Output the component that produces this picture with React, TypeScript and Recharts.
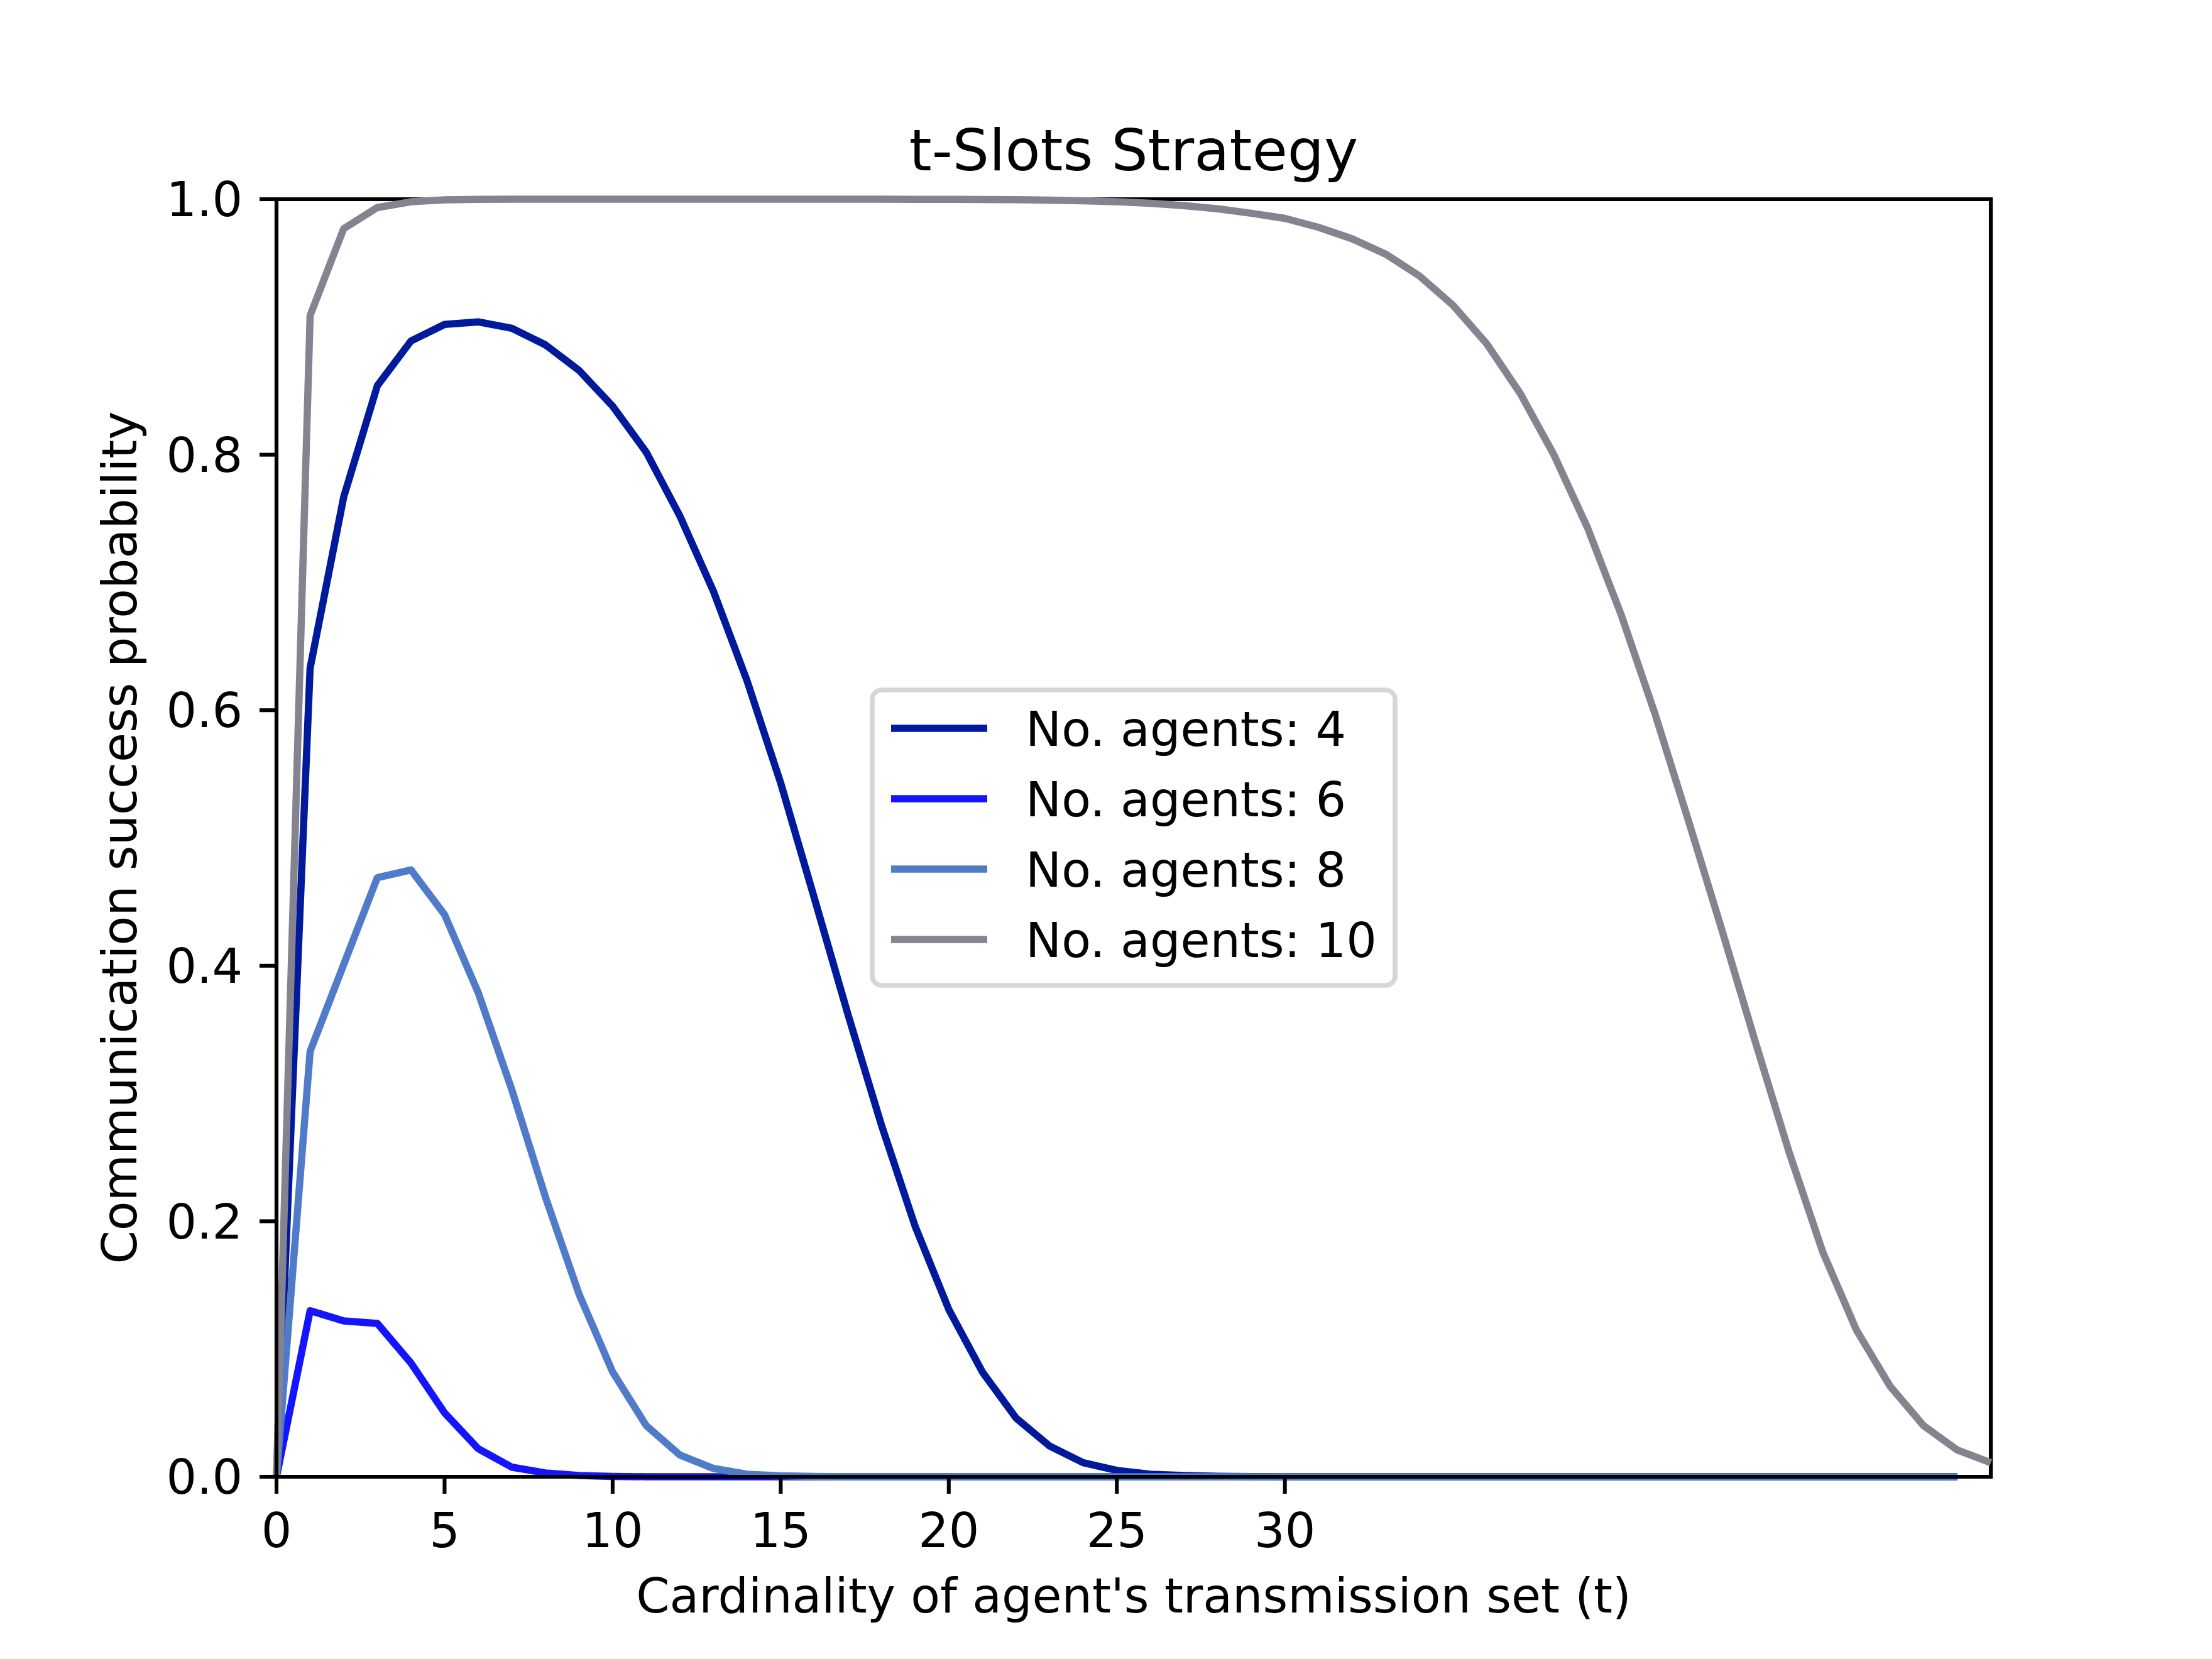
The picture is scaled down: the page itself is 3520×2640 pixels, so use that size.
import { LineChart, Line, XAxis, YAxis, Legend, ReferenceArea } from 'recharts'

// t = cardinality of the agent's transmission set
const tValues = [
  0, 1, 2, 3, 4, 5, 6, 7, 8, 9, 10, 11, 12, 13, 14, 15, 16, 17, 18, 19, 20, 21, 22, 23, 24, 25,
  26, 27, 28, 29, 30, 31, 32, 33, 34, 35, 36, 37, 38, 39, 40, 41, 42, 43, 44, 45, 46, 47, 48, 49, 50, 51,
]

const agents4 = [
  0, 0.633, 0.767, 0.854, 0.889, 0.902, 0.904, 0.899, 0.886, 0.866, 0.838, 0.802, 0.752, 0.693, 0.623, 0.543,
  0.453, 0.362, 0.275, 0.196, 0.131, 0.082, 0.046, 0.024, 0.011, 0.005, 0.002, 0.001, 0.0004, 0.0001, 0,
  0, 0, 0, 0, 0, 0, 0, 0, 0, 0, 0, 0, 0, 0, 0, 0, 0, 0, 0, 0,
]

const agents6 = [
  0, 0.13, 0.122, 0.12, 0.089, 0.05, 0.022, 0.0075, 0.003, 0.001, 0.0003, 0, 0, 0, 0, 0,
  0, 0, 0, 0, 0, 0, 0, 0, 0, 0, 0, 0, 0, 0, 0,
  0, 0, 0, 0, 0, 0, 0, 0, 0, 0, 0, 0, 0, 0, 0, 0, 0, 0, 0, 0,
]

const agents8 = [
  0, 0.333, 0.401, 0.469, 0.475, 0.44, 0.379, 0.303, 0.219, 0.143, 0.082, 0.04, 0.017, 0.0065, 0.002, 0.0008,
  0.0002, 0, 0, 0, 0, 0, 0, 0, 0, 0, 0, 0, 0, 0, 0,
  0, 0, 0, 0, 0, 0, 0, 0, 0, 0, 0, 0, 0, 0, 0, 0, 0, 0, 0, 0,
]

const agents10 = [
  0, 0.909, 0.977, 0.9935, 0.998, 0.9995, 0.9999, 1, 1, 1, 1, 1, 1, 1, 1, 1,
  1, 1, 1, 0.9999, 0.9999, 0.9998, 0.9996, 0.9993, 0.9988, 0.998, 0.9968, 0.995, 0.9925, 0.989, 0.985,
  0.978, 0.969, 0.957, 0.94, 0.917, 0.887, 0.848, 0.8, 0.743, 0.675, 0.598, 0.514, 0.428, 0.34, 0.254,
  0.176, 0.115, 0.071, 0.04, 0.021, 0.011,
]

const seriesKeys = ['a4', 'a6', 'a8', 'a10']
const seriesNames = ['No. agents: 4', 'No. agents: 6', 'No. agents: 8', 'No. agents: 10']
const seriesColors = ['#011a9c', '#1414ff', '#507bc9', '#84838f']

const xTicks = [0, 5, 10, 15, 20, 25, 30]
const yTicks = [0, 0.2, 0.4, 0.6, 0.8, 1.0]

const chartData = tValues.map((t, i) => ({
  t,
  a4: agents4[i],
  a6: agents6[i],
  a8: agents8[i],
  a10: agents10[i],
}))

const FONT = 'DejaVu Sans'
const FS = 76.4
const AXIS_W = 6.1

function LegendBox() {
  return (
    <svg width={840} height={478}>
      <rect
        x={4}
        y={4}
        width={832}
        height={470}
        rx={15}
        fill="#ffffff"
        fillOpacity={0.8}
        stroke="#cccccc"
        strokeOpacity={0.8}
        strokeWidth={7.6}
      />
      {seriesNames.map((name, i) => (
        <g key={name}>
          <line
            x1={34}
            x2={187}
            y1={65 + 112 * i}
            y2={65 + 112 * i}
            stroke={seriesColors[i]}
            strokeWidth={11.5}
          />
          <text x={248} y={93 + 112 * i} fontFamily={FONT} fontSize={FS} fill="#000">
            {name}
          </text>
        </g>
      ))}
    </svg>
  )
}

export default function App() {
  return (
    <div style={{ position: 'relative', width: 3520, height: 2640, background: '#fff', fontFamily: FONT }}>
      <style>{'body{margin:0}'}</style>
      <LineChart
        width={3520}
        height={2640}
        data={chartData}
        margin={{ top: 317, right: 352, bottom: 0, left: 0 }}
      >
        <XAxis
          dataKey="t"
          type="number"
          domain={[0, 51]}
          ticks={xTicks}
          interval={0}
          height={290}
          stroke="#000"
          axisLine={{ stroke: '#000', strokeWidth: AXIS_W }}
          tickLine={{ stroke: '#000', strokeWidth: AXIS_W }}
          tickSize={27}
          tickMargin={31}
          tick={{ fontSize: FS, fill: '#000', fontFamily: FONT }}
        />
        <YAxis
          type="number"
          domain={[0, 1]}
          ticks={yTicks}
          interval={0}
          width={440}
          stroke="#000"
          axisLine={{ stroke: '#000', strokeWidth: AXIS_W }}
          tickLine={{ stroke: '#000', strokeWidth: AXIS_W }}
          tickSize={27}
          tickMargin={27}
          tickFormatter={(v: number) => v.toFixed(1)}
          tick={{ fontSize: FS, fill: '#000', fontFamily: FONT }}
        />
        {seriesKeys.map((key, i) => (
          <Line
            key={key}
            type="linear"
            dataKey={key}
            name={seriesNames[i]}
            stroke={seriesColors[i]}
            strokeWidth={11.5}
            strokeLinejoin="round"
            dot={false}
            activeDot={false}
            isAnimationActive={false}
          />
        ))}
        {/* axes frame (matplotlib spines) */}
        <ReferenceArea
          x1={0}
          x2={51}
          y1={0}
          y2={1}
          fill="none"
          fillOpacity={0}
          stroke="#000"
          strokeWidth={AXIS_W}
          strokeOpacity={1}
        />
        <Legend
          layout="vertical"
          align="center"
          verticalAlign="middle"
          content={() => <LegendBox />}
          wrapperStyle={{ position: 'absolute', left: 1384, top: 1094, width: 840, height: 478 }}
        />
      </LineChart>
      <svg
        width={3520}
        height={2640}
        style={{ position: 'absolute', left: 0, top: 0, pointerEvents: 'none' }}
      >
        <text x={1804} y={271} textAnchor="middle" fontFamily={FONT} fontSize={91.7} fill="#000">
          t-Slots Strategy
        </text>
        <text x={1804} y={2566} textAnchor="middle" fontFamily={FONT} fontSize={FS} fill="#000">
          Cardinality of agent's transmission set (t)
        </text>
        <text
          x={217}
          y={1333}
          textAnchor="middle"
          fontFamily={FONT}
          fontSize={FS}
          fill="#000"
          transform="rotate(-90 217 1333)"
        >
          Communication success probability
        </text>
      </svg>
    </div>
  )
}
